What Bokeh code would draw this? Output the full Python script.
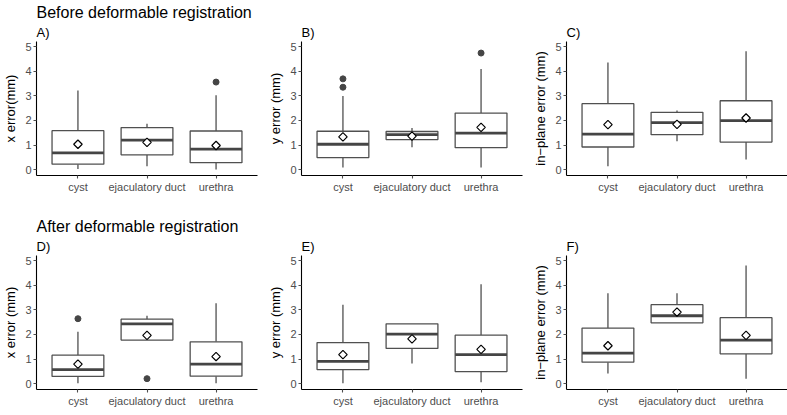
import math
from bokeh.plotting import figure
from bokeh.models import Range1d, FactorRange, FixedTicker, Title
from bokeh.layouts import row, column
from bokeh.embed import file_html
from bokeh.resources import INLINE

cats = ["cyst", "ejaculatory duct", "urethra"]
y_ticks = [0, 1, 2, 3, 4, 5]

# Panel A: before, x error
a_lo = [0.02, 0.14, 0.00]
a_q1 = [0.22, 0.60, 0.28]
a_med = [0.68, 1.20, 0.83]
a_q3 = [1.585, 1.71, 1.57]
a_hi = [3.22, 1.86, 3.02]
a_mean = [1.03, 1.11, 0.98]
a_out_cat = ["urethra"]
a_out_val = [3.56]

# Panel B: before, y error
b_lo = [0.09, 0.91, 0.09]
b_q1 = [0.49, 1.22, 0.89]
b_med = [1.03, 1.42, 1.48]
b_q3 = [1.56, 1.55, 2.30]
b_hi = [2.99, 1.69, 4.09]
b_mean = [1.33, 1.36, 1.72]
b_out_cat = ["cyst", "cyst", "urethra"]
b_out_val = [3.35, 3.69, 4.74]

# Panel C: before, in-plane error
c_lo = [0.14, 1.15, 0.41]
c_q1 = [0.92, 1.42, 1.12]
c_med = [1.44, 1.91, 1.99]
c_q3 = [2.68, 2.33, 2.80]
c_hi = [4.36, 2.40, 4.81]
c_mean = [1.83, 1.84, 2.10]
c_out_cat = []
c_out_val = []

# Panel D: after, x error
d_lo = [0.01, 1.77, 0.01]
d_q1 = [0.29, 1.77, 0.30]
d_med = [0.57, 2.43, 0.79]
d_q3 = [1.155, 2.62, 1.70]
d_hi = [2.11, 2.76, 3.27]
d_mean = [0.79, 1.96, 1.10]
d_out_cat = ["cyst", "ejaculatory duct"]
d_out_val = [2.64, 0.20]

# Panel E: after, y error
e_lo = [0.01, 0.82, 0.05]
e_q1 = [0.57, 1.43, 0.49]
e_med = [0.90, 2.01, 1.18]
e_q3 = [1.67, 2.43, 1.97]
e_hi = [3.21, 2.43, 4.04]
e_mean = [1.18, 1.82, 1.39]
e_out_cat = []
e_out_val = []

# Panel F: after, in-plane error
f_lo = [0.41, 2.47, 0.20]
f_q1 = [0.87, 2.47, 1.21]
f_med = [1.24, 2.76, 1.77]
f_q3 = [2.26, 3.21, 2.68]
f_hi = [3.67, 3.67, 4.80]
f_mean = [1.54, 2.91, 1.96]
f_out_cat = []
f_out_val = []

FONT = "Liberation Sans"
GREY = "#4d4d4d"
LINE = "#505050"
MED = "#454545"


def panel(letter, section, ylabel, lo, q1, med, q3, hi, mean, out_cat, out_val,
          right_border, top_border, bottom_border):
    p = figure(x_range=FactorRange(factors=cats, range_padding=0.1,
                                   range_padding_units="absolute"),
               y_range=Range1d(-0.24, 5.21),
               frame_width=221, frame_height=134,
               output_backend="svg", toolbar_location=None,
               min_border_left=0, min_border_right=right_border,
               min_border_top=top_border, min_border_bottom=bottom_border)
    p.title.visible = False
    p.xgrid.visible = False
    p.ygrid.visible = False
    p.outline_line_color = None
    p.background_fill_color = "white"

    for ax in (p.xaxis[0], p.yaxis[0]):
        ax.axis_line_color = "black"
        ax.axis_line_width = 1.1
        ax.major_tick_line_color = GREY
        ax.major_tick_line_width = 1.1
        ax.major_tick_out = 3
        ax.major_tick_in = 0
        ax.minor_tick_line_color = None
        ax.major_label_text_font = FONT
        ax.major_label_text_font_size = "11px"
        ax.major_label_text_color = GREY
        ax.major_label_standoff = 2
        ax.axis_label_text_font = FONT
        ax.axis_label_text_font_size = "13px"
        ax.axis_label_text_font_style = "normal"
        ax.axis_label_text_color = "black"
        ax.axis_label_standoff = 4
    p.yaxis.ticker = FixedTicker(ticks=y_ticks)
    p.yaxis.axis_label = ylabel

    # whiskers
    p.segment(x0=cats, y0=q3, x1=cats, y1=hi, line_color=LINE, line_width=1.3)
    p.segment(x0=cats, y0=lo, x1=cats, y1=q1, line_color=LINE, line_width=1.3)
    # boxes
    p.vbar(x=cats, width=0.75, bottom=q1, top=q3, fill_color="white",
           line_color=LINE, line_width=1.3)
    # medians
    p.segment(x0=[(c, -0.375) for c in cats], y0=med,
              x1=[(c, 0.375) for c in cats], y1=med,
              line_color=MED, line_width=2.8)
    # outliers
    if out_cat:
        p.scatter(x=out_cat, y=out_val, size=6, fill_color=MED, line_color=MED)
    # means
    p.scatter(x=cats, y=mean, marker="square", angle=math.pi / 4, size=6,
              fill_color="white", line_color="black", line_width=1.2)

    p.add_layout(Title(text=letter, text_font=FONT, text_font_size="13px",
                       text_font_style="normal", text_color="black",
                       align="left", standoff=3), "above")
    if section:
        p.add_layout(Title(text=section, text_font=FONT, text_font_size="16px",
                           text_font_style="normal", text_color="black",
                           align="left", standoff=2), "above")
    return p


pA = panel("A)", "Before deformable registration", "x error(mm)",
           a_lo, a_q1, a_med, a_q3, a_hi, a_mean, a_out_cat, a_out_val, 8, 40, 33)
pB = panel("B)", None, "y error (mm)",
           b_lo, b_q1, b_med, b_q3, b_hi, b_mean, b_out_cat, b_out_val, 8, 40, 33)
pC = panel("C)", None, "in\u2212plane error (mm)",
           c_lo, c_q1, c_med, c_q3, c_hi, c_mean, c_out_cat, c_out_val, 3, 40, 33)
pD = panel("D)", "After deformable registration", "x error (mm)",
           d_lo, d_q1, d_med, d_q3, d_hi, d_mean, d_out_cat, d_out_val, 8, 47, 19)
pE = panel("E)", None, "y error (mm)",
           e_lo, e_q1, e_med, e_q3, e_hi, e_mean, e_out_cat, e_out_val, 8, 47, 19)
pF = panel("F)", None, "in\u2212plane error (mm)",
           f_lo, f_q1, f_med, f_q3, f_hi, f_mean, f_out_cat, f_out_val, 3, 47, 19)

layout = column(row(pA, pB, pC), row(pD, pE, pF))

open("out.html", "w").write(file_html(layout, INLINE))
